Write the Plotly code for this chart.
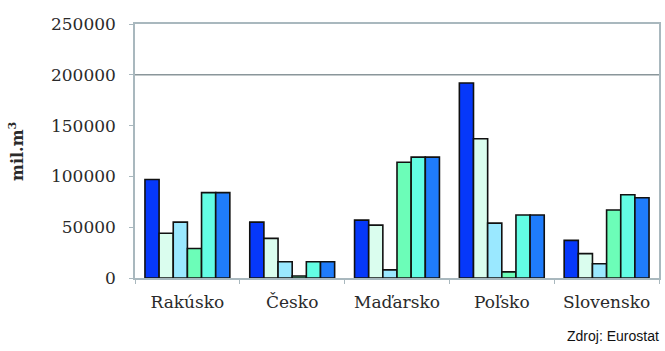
import plotly.graph_objects as go

countries = ["Rakúsko", "Česko", "Maďarsko", "Poľsko", "Slovensko"]

# six series per country (mil. m3)
series_a = [97000, 55000, 57000, 192000, 37000]
series_b = [44000, 39000, 52000, 137000, 24000]
series_c = [55000, 16000, 8000, 54000, 14000]
series_d = [29000, 2000, 114000, 6000, 67000]
series_e = [84000, 16000, 119000, 62000, 82000]
series_f = [84000, 16000, 119000, 62000, 79000]

y_ticks = [0, 50000, 100000, 150000, 200000, 250000]

series = [series_a, series_b, series_c, series_d, series_e, series_f]
colors = ["#0638FA", "#DAFDEE", "#9AE8FF", "#6CFDB8", "#63FDE4", "#1F7CFB"]

fig = go.Figure()
for vals, col in zip(series, colors):
    fig.add_trace(go.Bar(
        x=countries, y=vals,
        marker=dict(color=col, line=dict(color="#111111", width=1.6)),
        showlegend=False,
    ))

# single reference line at 200000
fig.add_shape(type="line", xref="paper", x0=0, x1=1, yref="y",
              y0=200000, y1=200000, line=dict(color="#8a969a", width=1.5))

serif = "DejaVu Serif"
text_col = "#2a2a2a"
fig.update_layout(
    width=665, height=351,
    margin=dict(l=135, r=4, t=24, b=73),
    paper_bgcolor="white", plot_bgcolor="white",
    barmode="group", bargap=0.19, bargroupgap=0,
    xaxis=dict(
        showline=True, linecolor="#a9b8be", linewidth=1.5, mirror=True,
        ticks="outside", tickson="boundaries", ticklen=4, tickcolor="#a9b8be",
        ticklabelstandoff=8,
        tickfont=dict(family=serif, size=17, color=text_col),
        showgrid=False,
    ),
    yaxis=dict(
        range=[0, 250000], tickvals=y_ticks,
        ticktext=[str(v) for v in y_ticks],
        showline=True, linecolor="#a9b8be", linewidth=1.5, mirror=True,
        ticks="outside", ticklen=4, tickcolor="#a9b8be",
        ticklabelstandoff=10,
        tickfont=dict(family=serif, size=17, color=text_col),
        showgrid=False, zeroline=False,
    ),
    annotations=[
        dict(
            text="<b>mil.m<sup>3</sup></b>", xref="paper", yref="paper",
            x=0, y=0.5, xanchor="center", yanchor="middle", xshift=-119,
            textangle=-90, showarrow=False,
            font=dict(family=serif, size=16, color=text_col),
        ),
        dict(
            text="Zdroj: Eurostat", xref="paper", yref="paper",
            x=1, y=0, xanchor="right", yanchor="middle", yshift=-58, xshift=2,
            showarrow=False,
            font=dict(family="Liberation Sans", size=14, color="#111111"),
        ),
    ],
)

fig.write_html("out.html")
